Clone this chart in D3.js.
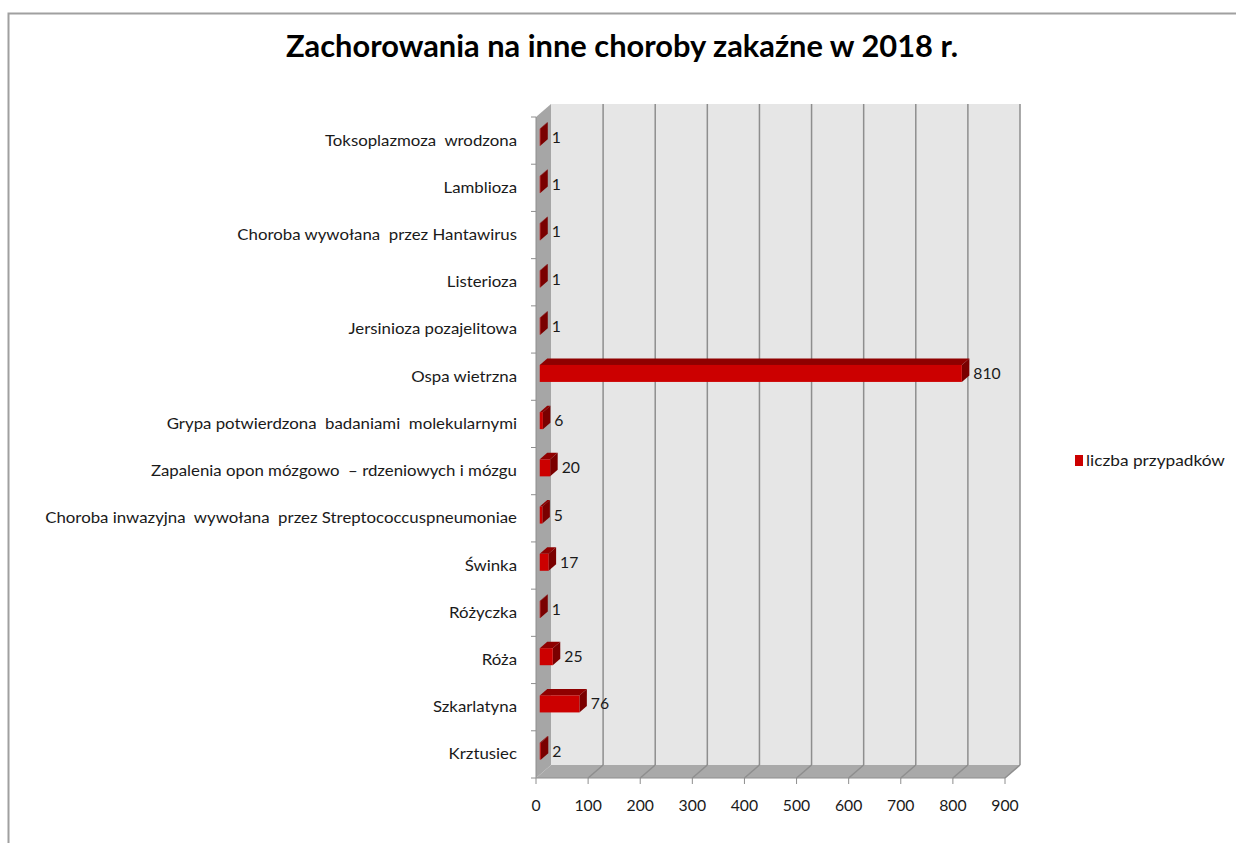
<!DOCTYPE html>
<html>
<head>
<meta charset="utf-8">
<script src="https://d3js.org/d3.v7.min.js"></script>
<style>
  body { margin: 0; background: #fff; }
  text { font-family: Lato, "Open Sans", sans-serif; }
</style>
</head>
<body>
<div id="vis"></div>
<script>
// data, top to bottom as in the chart
const categories = [
  'Toksoplazmoza  wrodzona',
  'Lamblioza',
  'Choroba wywołana  przez Hantawirus',
  'Listerioza',
  'Jersinioza pozajelitowa',
  'Ospa wietrzna',
  'Grypa potwierdzona  badaniami  molekularnymi',
  'Zapalenia opon mózgowo  – rdzeniowych i mózgu',
  'Choroba inwazyjna  wywołana  przez Streptococcuspneumoniae',
  'Świnka',
  'Różyczka',
  'Róża',
  'Szkarlatyna',
  'Krztusiec'
];
const cases = [1, 1, 1, 1, 1, 810, 6, 20, 5, 17, 1, 25, 76, 2];
const xTicks = [0, 100, 200, 300, 400, 500, 600, 700, 800, 900];
const seriesName = 'liczba przypadków';
const title = 'Zachorowania na inne choroby zakaźne w 2018 r.';

const W = 1236, H = 843;
const svg = d3.select('#vis').append('svg')
  .attr('width', W).attr('height', H)
  .style('display', 'block');

// widen text a little, the original font is rendered stretched
function stretch(sel, k) {
  sel.each(function() {
    const len = this.getComputedTextLength();
    d3.select(this).attr('textLength', len * k).attr('lengthAdjust', 'spacingAndGlyphs');
  });
}

// outer frame (only top and left edges visible)
svg.append('path')
  .attr('d', `M8.5,${H} L8.5,13.5 L${W},13.5`)
  .attr('fill', 'none').attr('stroke', '#a0a0a0').attr('stroke-width', 2);

// 3d geometry
const DX = 15, DY = -13;
const x = d3.scaleLinear().domain([0, 900]).range([536, 1005]);
const y = d3.scaleBand().domain(categories).range([117, 778]);
const x0 = x(0), yTop = y.range()[0], yBot = y.range()[1];

// left wall
svg.append('polygon')
  .attr('points', [[x0, yTop], [x0 + DX, yTop + DY], [x0 + DX, yBot + DY], [x0, yBot]].join(' '))
  .attr('fill', '#a6a6a6');
// back wall
svg.append('rect')
  .attr('x', x0 + DX).attr('y', yTop + DY)
  .attr('width', x(900) - x0).attr('height', yBot - yTop)
  .attr('fill', '#e6e6e6');
// floor
svg.append('polygon')
  .attr('points', [[x0, yBot], [x(900), yBot], [x(900) + DX, yBot + DY], [x0 + DX, yBot + DY]].join(' '))
  .attr('fill', '#a9a9a9');

// gridlines on back wall and floor
const grid = svg.append('g').attr('stroke', '#8e8e8e').attr('stroke-width', 1.5);
xTicks.slice(1).forEach(v => {
  grid.append('line')
    .attr('x1', x(v) + DX).attr('x2', x(v) + DX)
    .attr('y1', yTop + DY).attr('y2', yBot + DY);
  grid.append('line')
    .attr('x1', x(v)).attr('x2', x(v) + DX)
    .attr('y1', yBot).attr('y2', yBot + DY);
});

// y axis ticks (band boundaries) and x axis
const axisG = svg.append('g').attr('stroke', '#8e8e8e').attr('stroke-width', 1);
d3.range(categories.length + 1).forEach(i => {
  const yy = yTop + i * y.step();
  axisG.append('line').attr('x1', x0 - 5).attr('x2', x0).attr('y1', yy).attr('y2', yy);
});
axisG.append('line').attr('x1', x0).attr('x2', x0).attr('y1', yTop).attr('y2', yBot);
axisG.append('line').attr('x1', x0).attr('x2', x(900)).attr('y1', yBot).attr('y2', yBot);
xTicks.forEach(v => {
  axisG.append('line').attr('x1', x(v)).attr('x2', x(v)).attr('y1', yBot).attr('y2', yBot + 6);
});

svg.append('g').selectAll('text').data(xTicks).join('text')
  .attr('x', d => x(d)).attr('y', 811)
  .attr('text-anchor', 'middle')
  .attr('font-size', 15).attr('fill', '#1a1a1a')
  .text(d => d)
  .call(stretch, 1.05);

// category labels
svg.append('g').selectAll('text').data(categories).join('text')
  .attr('x', 517)
  .attr('y', d => y(d) + y.bandwidth() / 2 + 5)
  .attr('text-anchor', 'end')
  .attr('font-size', 15).attr('fill', '#1a1a1a')
  .style('white-space', 'pre')
  .text(d => d)
  .call(stretch, 1.12);

// 3d bars
const barH = 17, bDX = 7.5, bDY = -6.5;
const offX = 3.75, offY = -3.25;
const bars = svg.append('g').selectAll('g').data(categories).join('g');
bars.each(function(d, i) {
  const g = d3.select(this);
  const xa = x0 + offX, xb = x(cases[i]) + offX;
  const yc = y(d) + y.bandwidth() / 2 + offY;
  const ya = yc - barH / 2, yb = yc + barH / 2;
  // top face
  g.append('polygon')
    .attr('points', [[xa, ya], [xb, ya], [xb + bDX, ya + bDY], [xa + bDX, ya + bDY]].join(' '))
    .attr('fill', '#8f0000');
  // right face
  g.append('polygon')
    .attr('points', [[xb, ya], [xb + bDX, ya + bDY], [xb + bDX, yb + bDY], [xb, yb]].join(' '))
    .attr('fill', '#7a0000');
  // front face
  g.append('rect')
    .attr('x', xa).attr('y', ya)
    .attr('width', Math.max(xb - xa, 0.6)).attr('height', barH)
    .attr('fill', '#cc0000');
  // value label
  g.append('text')
    .attr('x', xb + bDX + 4)
    .attr('y', yc + 5.5)
    .attr('font-size', 15).attr('fill', '#1a1a1a')
    .text(cases[i])
    .call(stretch, 1.05);
});

// legend
svg.append('rect').attr('x', 1075).attr('y', 455).attr('width', 8).attr('height', 11)
  .attr('fill', '#cc0000');
svg.append('text').attr('x', 1086).attr('y', 466)
  .attr('font-size', 15).attr('fill', '#1a1a1a')
  .text(seriesName)
  .call(stretch, 1.15);

// title
svg.append('text')
  .attr('x', 622).attr('y', 57)
  .attr('text-anchor', 'middle')
  .attr('font-size', 31).attr('font-weight', 'bold').attr('fill', '#000')
  .attr('textLength', 672).attr('lengthAdjust', 'spacingAndGlyphs')
  .text(title);
</script>
</body>
</html>
